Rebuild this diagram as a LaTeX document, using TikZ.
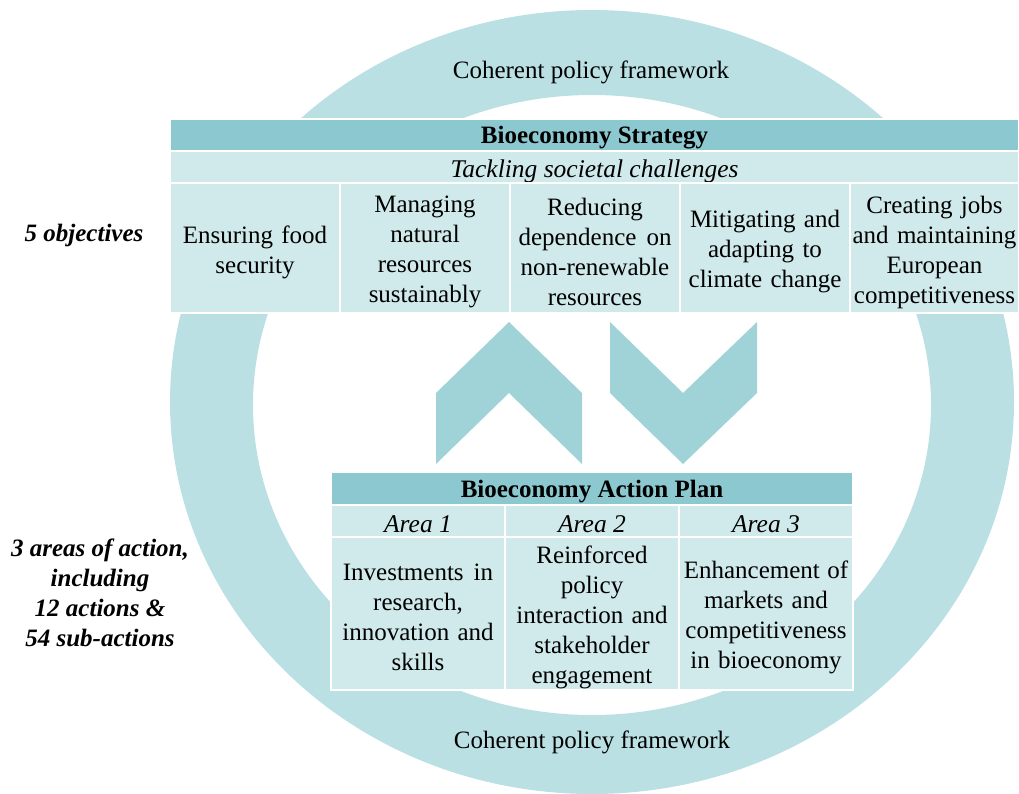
\documentclass[tikz,border=0pt]{standalone}
\usepackage{fontspec}
\setmainfont{Liberation Serif}
\definecolor{ringc}{HTML}{BAE0E4}
\definecolor{headc}{HTML}{8CC8CF}
\definecolor{cellc}{HTML}{D0E9EB}
\definecolor{chevc}{HTML}{A0D3D7}
\tikzset{
  txt/.style={font=\fontsize{25}{30}\selectfont, align=center, inner sep=0pt},
  headbox/.style={fill=headc, draw=white, line width=1.5pt, inner sep=0pt},
  cellbox/.style={fill=cellc, draw=white, line width=1.5pt, inner sep=0pt},
  headtxt/.style={font=\fontsize{25}{30}\selectfont\bfseries, inner sep=0pt},
  ittxt/.style={font=\fontsize{25.5}{30}\selectfont\itshape, inner sep=0pt},
  sidelabel/.style={font=\fontsize{25}{30}\selectfont\bfseries\itshape, align=center, inner sep=0pt},
  chevron/.style={fill=chevc, draw=none}
}
\begin{document}
\begin{tikzpicture}[x=1pt, y=-1pt]
\useasboundingbox (0,0) rectangle (1019,794);
% ring
\fill[ringc, even odd rule] (592,402) ellipse [x radius=422pt, y radius=392pt]
  (592,405) ellipse [x radius=339pt, y radius=310pt];
\node[txt] (cpf1) at (591,72) {Coherent policy framework};
\node[txt] (cpf2) at (592,742) {Coherent policy framework};
% strategy table
\node[headbox, minimum width=849pt, minimum height=32pt] (sh) at (594.5,135) {};
\node[headtxt] (sht) at ([yshift=-3pt]sh.center) {Bioeconomy Strategy};
\node[cellbox, minimum width=849pt, minimum height=32pt] (ss) at (594.5,167) {};
\node[ittxt] (sst) at ([yshift=-4pt]ss.center) {Tackling societal challenges};
\node[cellbox, minimum width=170pt, minimum height=130pt] (o1) at (255,248) {};
\node[cellbox, minimum width=170pt, minimum height=130pt] (o2) at (425,248) {};
\node[cellbox, minimum width=170pt, minimum height=130pt] (o3) at (595,248) {};
\node[cellbox, minimum width=170pt, minimum height=130pt] (o4) at (765,248) {};
\node[cellbox, minimum width=169pt, minimum height=130pt] (o5) at (934.5,248) {};
\node[txt, text width=166pt] (o1t) at ([yshift=-4pt]o1.center) {Ensuring food\\security};
\node[txt, text width=166pt] (o2t) at ([yshift=-4pt]o2.center) {Managing\\natural\\resources\\sustainably};
\node[txt, text width=166pt] (o3t) at ([yshift=-4pt]o3.center) {Reducing\\dependence\hspace{0.4em}on\\non-renewable\\resources};
\node[txt, text width=166pt] (o4t) at ([yshift=-4pt]o4.center) {Mitigating and\\adapting to\\climate change};
\node[txt, text width=167pt] (o5t) at ([yshift=-4pt]o5.center) {Creating jobs\\and maintaining\\European\\competitiveness};
% chevrons
\fill[chevron] (436,393) -- (509,322) -- (582,393) -- (582,464) -- (509,393) -- (436,464) -- cycle;
\fill[chevron] (610,322) -- (683,393) -- (757,322) -- (757,393) -- (683,464) -- (610,393) -- cycle;
% action plan table
\node[headbox, minimum width=522pt, minimum height=33pt] (ah) at (592,488.5) {};
\node[headtxt] (aht) at ([yshift=-3pt]ah.center) {Bioeconomy Action Plan};
\node[cellbox, minimum width=174pt, minimum height=32pt] (a1) at (418,521) {};
\node[cellbox, minimum width=174pt, minimum height=32pt] (a2) at (592,521) {};
\node[cellbox, minimum width=174pt, minimum height=32pt] (a3) at (766,521) {};
\node[ittxt] (a1t) at ([yshift=-3pt]a1.center) {Area 1};
\node[ittxt] (a2t) at ([yshift=-3pt]a2.center) {Area 2};
\node[ittxt] (a3t) at ([yshift=-3pt]a3.center) {Area 3};
\node[cellbox, minimum width=174pt, minimum height=153pt] (c1) at (418,613.5) {};
\node[cellbox, minimum width=174pt, minimum height=153pt] (c2) at (592,613.5) {};
\node[cellbox, minimum width=174pt, minimum height=153pt] (c3) at (766,613.5) {};
\node[txt, text width=172pt] (c1t) at ([yshift=-4pt]c1.center) {Investments\hspace{0.4em}in\\research,\\innovation and\\skills};
\node[txt, text width=172pt] (c2t) at ([yshift=-4pt]c2.center) {Reinforced\\policy\\interaction and\\stakeholder\\engagement};
\node[txt, text width=172pt] (c3t) at ([yshift=-4pt]c3.center) {Enhancement\hspace{0.3em}of\\markets and\\competitiveness\\in bioeconomy};
% side labels
\node[sidelabel] (l1) at (84,235) {5 objectives};
\node[sidelabel] (l2) at (100,593) {3 areas of action,\\including\\12 actions \&\\54 sub-actions};
\end{tikzpicture}
\end{document}
